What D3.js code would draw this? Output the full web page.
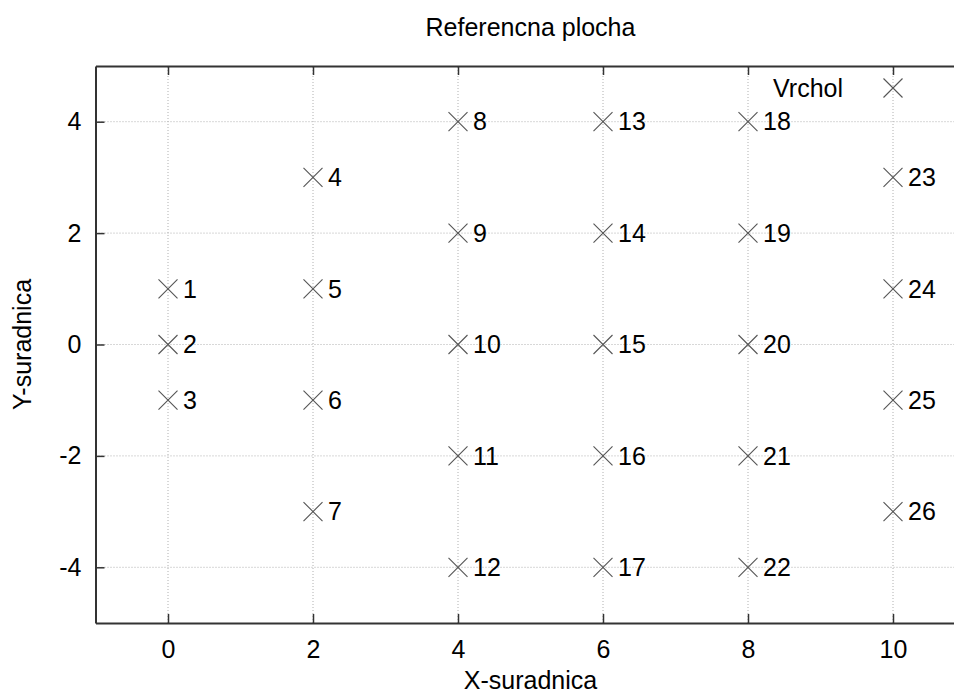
<!DOCTYPE html>
<html>
<head>
<meta charset="utf-8">
<script src="https://cdn.jsdelivr.net/npm/d3@7"></script>
<style>
  body { margin: 0; background: #fff; }
  svg { display: block; font-family: "Liberation Sans", Arial, sans-serif; }
</style>
</head>
<body>
<script>
const width = 954;
const height = 696;
const margin = {top: 66, right: -11.5, bottom: 73, left: 95.5};

const title = 'Referencna plocha';
const xLabel = 'X-suradnica';
const yLabel = 'Y-suradnica';
const legendLabel = 'Vrchol';

// body plochy
const pointIds = [1, 2, 3, 4, 5, 6, 7, 8, 9, 10, 11, 12, 13, 14, 15, 16, 17, 18, 19, 20, 21, 22, 23, 24, 25, 26];
const pointX = [0, 0, 0, 2, 2, 2, 2, 4, 4, 4, 4, 4, 6, 6, 6, 6, 6, 8, 8, 8, 8, 8, 10, 10, 10, 10];
const pointY = [1, 0, -1, 3, 1, -1, -3, 4, 2, 0, -2, -4, 4, 2, 0, -2, -4, 4, 2, 0, -2, -4, 3, 1, -1, -3];

const xTicks = [0, 2, 4, 6, 8, 10];
const yTicks = [-4, -2, 0, 2, 4];

const points = pointIds.map((id, i) => ({id: id, x: pointX[i], y: pointY[i]}));

const fontSize = '25px';

const x = d3.scaleLinear()
  .domain([-1, 11])
  .range([margin.left, width - margin.right]);

const y = d3.scaleLinear()
  .domain([-5, 5])
  .range([height - margin.bottom, margin.top]);

const svg = d3.select('body').append('svg')
  .attr('width', width)
  .attr('height', height);

// grid
svg.append('g')
  .selectAll('line')
  .data(xTicks)
  .join('line')
    .attr('x1', d => x(d)).attr('x2', d => x(d))
    .attr('y1', y(-5)).attr('y2', y(5))
    .attr('stroke', '#b0b0b0')
    .attr('stroke-dasharray', '1,2');

svg.append('g')
  .selectAll('line')
  .data(yTicks)
  .join('line')
    .attr('x1', x(-1)).attr('x2', x(11))
    .attr('y1', d => y(d)).attr('y2', d => y(d))
    .attr('stroke', '#b0b0b0')
    .attr('stroke-dasharray', '1,2');

// axes, ticks inward
const fmt = d => String(d);

const xAxis = g => g
  .attr('transform', `translate(0,${y(-5)})`)
  .call(d3.axisBottom(x).tickValues(xTicks).tickFormat(fmt).tickSizeInner(-9).tickSizeOuter(0).tickPadding(17))
  .call(g => g.select('.domain').attr('stroke-width', 2));

const xAxisTop = g => g
  .attr('transform', `translate(0,${y(5)})`)
  .call(d3.axisTop(x).tickValues(xTicks).tickSizeInner(-9).tickSizeOuter(0).tickFormat(''))
  .call(g => g.select('.domain').attr('stroke-width', 2));

const yAxis = g => g
  .attr('transform', `translate(${x(-1)},0)`)
  .call(d3.axisLeft(y).tickValues(yTicks).tickFormat(fmt).tickSizeInner(-9).tickSizeOuter(0).tickPadding(14))
  .call(g => g.select('.domain').attr('stroke-width', 2));

for (const ax of [xAxis, xAxisTop, yAxis]) {
  svg.append('g').call(ax)
    .call(g => g.selectAll('.domain').attr('stroke', '#333'))
    .call(g => g.selectAll('.tick line').attr('stroke', '#333').attr('stroke-width', 1.5))
    .call(g => g.selectAll('.tick text')
      .attr('font-size', fontSize)
      .attr('fill', '#000')
      .attr('font-family', '"Liberation Sans", Arial, sans-serif'));
}

// body
const cross = 9.5;
const pts = svg.append('g')
  .selectAll('g')
  .data(points)
  .join('g')
    .attr('transform', d => `translate(${x(d.x)},${y(d.y)})`);

pts.append('path')
  .attr('d', `M${-cross},${-cross}L${cross},${cross}M${-cross},${cross}L${cross},${-cross}`)
  .attr('stroke', '#555')
  .attr('stroke-width', 1.1)
  .attr('fill', 'none');

pts.append('text')
  .attr('x', 15)
  .attr('dy', '0.35em')
  .attr('font-size', fontSize)
  .attr('fill', '#000')
  .text(d => d.id);

// legenda
const legend = svg.append('g')
  .attr('transform', `translate(893,88)`);

legend.append('path')
  .attr('d', `M${-cross},${-cross}L${cross},${cross}M${-cross},${cross}L${cross},${-cross}`)
  .attr('stroke', '#555')
  .attr('stroke-width', 1.1)
  .attr('fill', 'none');

legend.append('text')
  .attr('x', -50)
  .attr('dy', '0.35em')
  .attr('text-anchor', 'end')
  .attr('font-size', fontSize)
  .text(legendLabel);

// popisy
svg.append('text')
  .attr('x', x(5))
  .attr('y', 36)
  .attr('text-anchor', 'middle')
  .attr('font-size', fontSize)
  .text(title);

svg.append('text')
  .attr('x', x(5))
  .attr('y', 689)
  .attr('text-anchor', 'middle')
  .attr('font-size', fontSize)
  .text(xLabel);

svg.append('text')
  .attr('transform', `translate(31,${y(0)}) rotate(-90)`)
  .attr('text-anchor', 'middle')
  .attr('font-size', fontSize)
  .text(yLabel);
</script>
</body>
</html>
